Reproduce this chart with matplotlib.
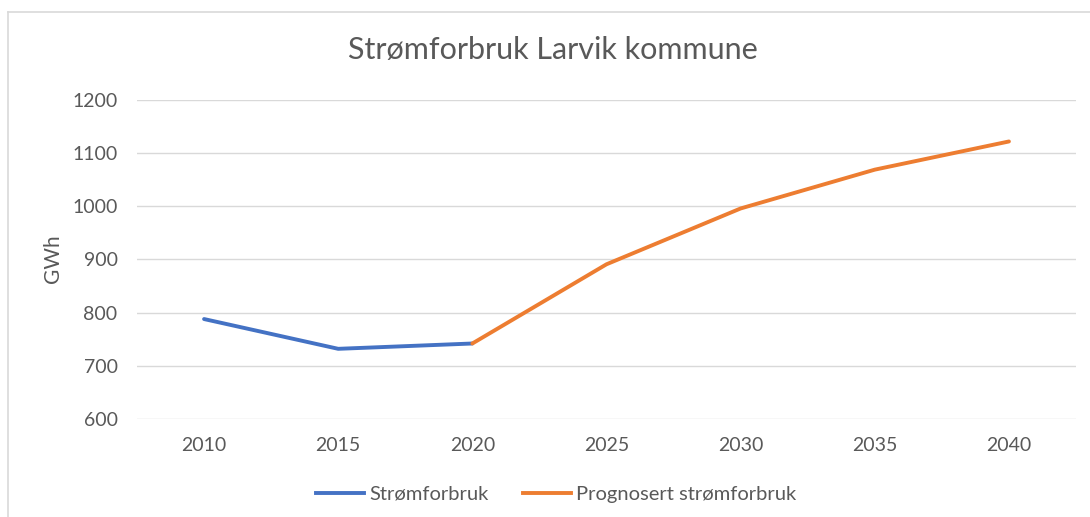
import matplotlib
matplotlib.use("Agg")
import matplotlib.pyplot as plt
from matplotlib.lines import Line2D

years = ["2010", "2015", "2020", "2025", "2030", "2035", "2040"]
historic = [788, 732, 742]
forecast_years = ["2020", "2025", "2030", "2035", "2040"]
forecast = [742, 891, 996, 1069, 1122]
yticks = [600, 700, 800, 900, 1000, 1100, 1200]

plt.rcParams['font.family'] = ['Lato', 'DejaVu Sans']

W, H = 1090, 517
fig = plt.figure(figsize=(W/100, H/100), dpi=100)
ax = fig.add_axes([137/W, 1-419/H, (1076-137)/W, (419-100)/H])

x_all = list(range(len(years)))
x_hist = [years.index(y) for y in years[:len(historic)]]
x_fc = [years.index(y) for y in forecast_years]

ax.plot(x_hist, historic, color='#4472C4', lw=2.8, solid_capstyle='round', solid_joinstyle='round', label='Strømforbruk')
ax.plot(x_fc, forecast, color='#ED7D31', lw=2.8, solid_capstyle='round', solid_joinstyle='round', label='Prognosert strømforbruk')

ax.set_xlim(-0.5, len(years)-0.5)
ax.set_ylim(600, 1200)
ax.set_xticks(x_all)
ax.set_xticklabels(years)
ax.set_yticks(yticks)
ax.grid(axis='y', color='#D9D9D9', lw=1.0)
ax.set_axisbelow(True)
for s in ax.spines.values():
    s.set_visible(False)
ax.tick_params(length=0, labelsize=14, colors='#595959')
ax.tick_params(axis='x', pad=13)
ax.tick_params(axis='y', pad=14)
ax.set_ylabel('GWh', fontsize=15, color='#595959', va='center')
ax.yaxis.set_label_coords(53/W, 1-259/H, transform=fig.transFigure)

fig.text(553/W, 1-50/H, 'Strømforbruk Larvik kommune', ha='center', va='center', fontsize=22, color='#595959')

leg = fig.legend(handles=[Line2D([], [], color='#4472C4', lw=2.8), Line2D([], [], color='#ED7D31', lw=2.8)],
                 labels=['Strømforbruk', 'Prognosert strømforbruk'],
                 loc='center', bbox_to_anchor=(556/W, 1-494/H), ncol=2, frameon=False,
                 fontsize=14.5, handlelength=2.4, handletextpad=0.25, columnspacing=1.7)
for t in leg.get_texts():
    t.set_color('#595959')

# chart frame (top and left edges visible)
fig.add_artist(Line2D([8/W, 1.0], [1-12/H, 1-12/H], transform=fig.transFigure, color='#D9D9D9', lw=1.2))
fig.add_artist(Line2D([8/W, 8/W], [0.0, 1-12/H], transform=fig.transFigure, color='#D9D9D9', lw=1.2))

fig.savefig('out.png', dpi=100)
